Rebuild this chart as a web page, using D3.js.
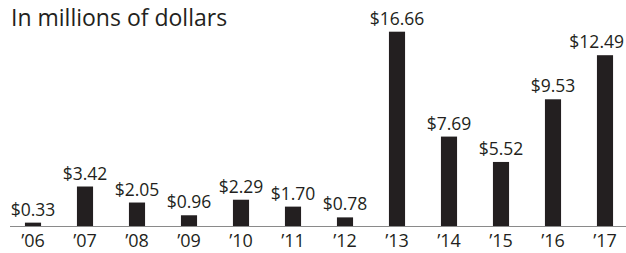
<!DOCTYPE html>
<html>
<head>
<meta charset="utf-8">
<script src="https://cdn.jsdelivr.net/npm/d3@7/dist/d3.min.js"></script>
<style>
  body { margin: 0; background: #fff; }
  text { font-family: "Open Sans", sans-serif; fill: #231f20; }
</style>
</head>
<body>
<script>
// Years on the x axis
const years = ["’06", "’07", "’08", "’09", "’10", "’11", "’12", "’13", "’14", "’15", "’16", "’17"];
// Bar heights as drawn in the picture (in millions)
const barValues = [0.33, 3.42, 2.05, 0.96, 2.29, 1.70, 0.78, 16.66, 7.69, 5.52, 10.88, 14.65];
// Printed labels above the bars
const barLabels = ["$0.33", "$3.42", "$2.05", "$0.96", "$2.29", "$1.70", "$0.78", "$16.66", "$7.69", "$5.52", "$9.53", "$12.49"];
const title = "In millions of dollars";

const width = 626, height = 253;
const baseline = 226.5;

const svg = d3.select("body").append("svg")
  .attr("width", width)
  .attr("height", height);

const data = years.map((y, i) => ({ year: y, value: barValues[i], label: barLabels[i] }));

// scales
const x = d3.scaleBand()
  .domain(years)
  .range([7, 631])
  .paddingInner(0.69)
  .paddingOuter(0.345);

const y = d3.scaleLinear()
  .domain([0, d3.max(barValues)])
  .range([baseline, 31.7]);

// title
svg.append("text")
  .attr("x", 11)
  .attr("y", 26)
  .style("font-size", "23px")
  .text(title);

// bars
svg.selectAll("rect.bar")
  .data(data)
  .join("rect")
  .attr("class", "bar")
  .attr("x", d => x(d.year))
  .attr("width", x.bandwidth())
  .attr("y", d => y(d.value))
  .attr("height", d => baseline - y(d.value))
  .attr("fill", "#231f20");

// value labels (kept inside the right edge)
svg.selectAll("text.val")
  .data(data)
  .join("text")
  .attr("class", "val")
  .attr("x", d => x(d.year) + x.bandwidth() / 2)
  .attr("y", d => y(d.value) - 7)
  .attr("text-anchor", "middle")
  .style("font-size", "17.5px")
  .text(d => d.label)
  .each(function () {
    const b = this.getBBox();
    if (b.x + b.width > width - 2) {
      d3.select(this).attr("x", +this.getAttribute("x") - (b.x + b.width - (width - 2)));
    }
  });

// x axis
const xAxis = d3.axisBottom(x).tickSize(0).tickPadding(0);
const gx = svg.append("g")
  .attr("transform", `translate(0,${baseline})`)
  .call(xAxis);
gx.select(".domain").remove();
gx.selectAll("text")
  .attr("y", 20)
  .attr("dy", 0)
  .style("font-size", "18px")
  .attr("fill", "#231f20");

svg.append("line")
  .attr("x1", 10)
  .attr("x2", width)
  .attr("y1", baseline)
  .attr("y2", baseline)
  .attr("stroke", "#8a8a8a")
  .attr("stroke-width", 1.2);
</script>
</body>
</html>
